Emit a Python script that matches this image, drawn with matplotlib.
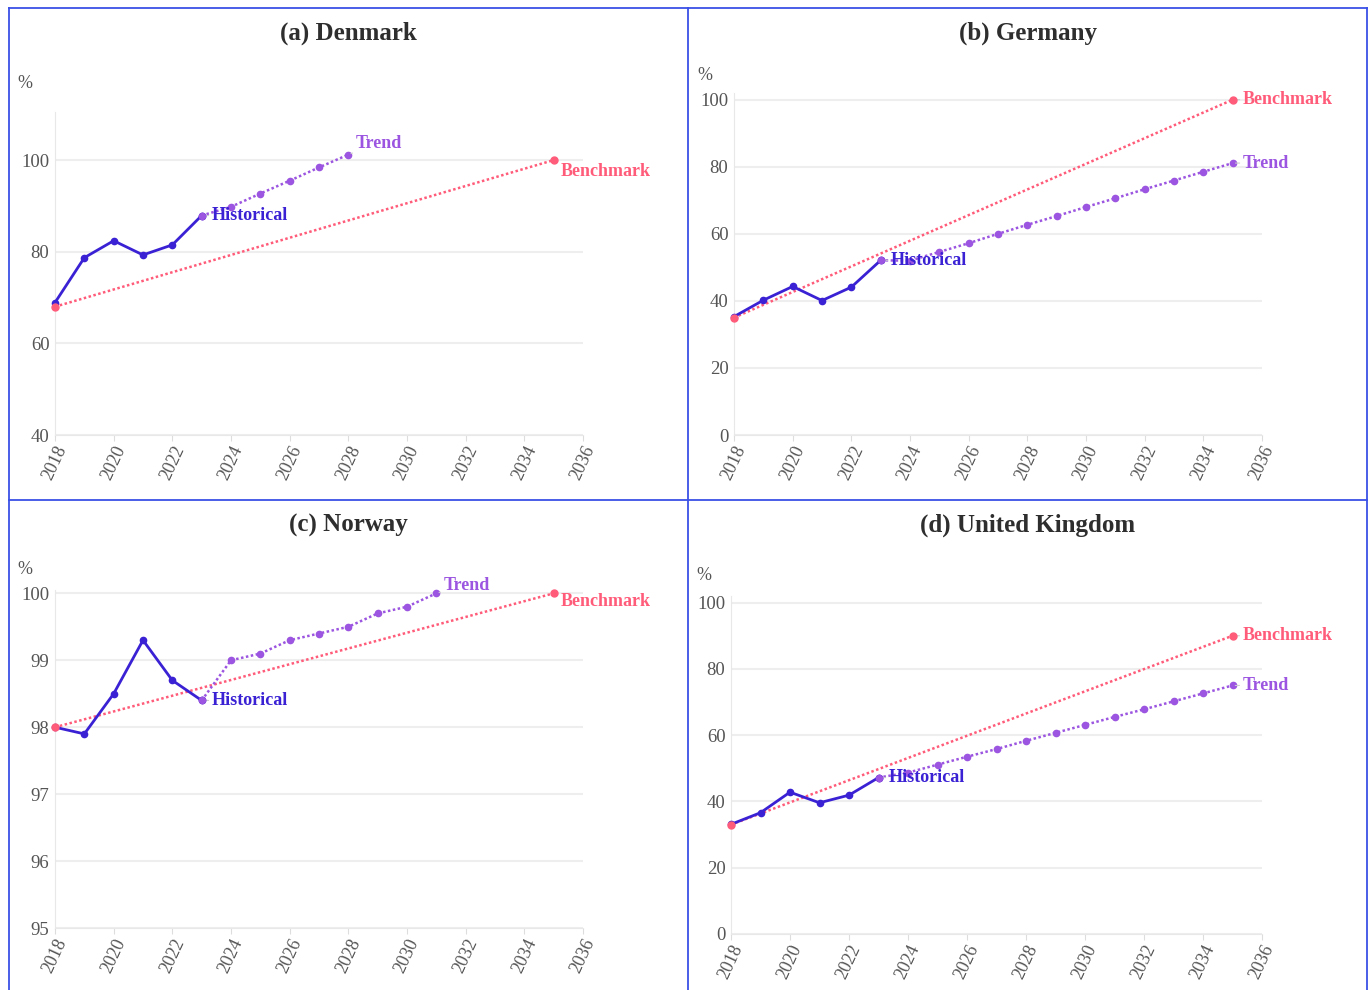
import numpy as np
import matplotlib.pyplot as plt
from matplotlib.lines import Line2D

plt.rcParams['font.family'] = ['Liberation Serif', 'DejaVu Serif']

# ---- data ----
hist_years = [2018, 2019, 2020, 2021, 2022, 2023]
bench_years = [2018, 2035]

dk_hist = [68.9, 78.7, 82.4, 79.3, 81.5, 87.9]
dk_trend_years = [2023, 2024, 2025, 2026, 2027, 2028]
dk_trend = [87.9, 89.8, 92.7, 95.5, 98.4, 101.2]
dk_bench = [68.0, 100.0]

de_hist = [35.3, 40.2, 44.3, 40.1, 44.1, 52.1]
de_trend_years = list(range(2023, 2036))
de_trend = [52.1, 52.0, 54.6, 57.2, 60.0, 62.7, 65.3, 68.0, 70.6, 73.3, 75.9, 78.5, 81.1]
de_bench = [35.0, 100.0]

no_hist = [98.0, 97.9, 98.5, 99.3, 98.7, 98.4]
no_trend_years = list(range(2023, 2032))
no_trend = [98.4, 99.0, 99.1, 99.3, 99.4, 99.5, 99.7, 99.8, 100.0]
no_bench = [98.0, 100.0]

uk_hist = [33.1, 36.6, 42.8, 39.6, 41.9, 47.2]
uk_trend_years = list(range(2023, 2036))
uk_trend = [47.2, 48.7, 51.1, 53.5, 55.8, 58.3, 60.7, 63.1, 65.5, 67.8, 70.2, 72.6, 75.0]
uk_bench = [33.0, 90.0]

x_ticks = list(range(2018, 2037, 2))

HIST_C = '#3a22d4'
TREND_C = '#9b55e0'
BENCH_C = '#ff5c7a'
GRID_C = '#eeeeee'
TICK_C = '#555555'
BORDER_C = '#3a4fe6'
DOTS = (0, (1, 1))

W, H = 1371, 990
fig = plt.figure(figsize=(W / 100, H / 100), dpi=100)


def px_axes(left, right, bottom, top):
    return fig.add_axes([left / W, 1 - bottom / H, (right - left) / W, (bottom - top) / H])


def draw_panel(ax, title, title_xy, pct_xy, hist, t_years, trend, bench, ylim, yticks,
               trend_off, bench_off):
    ax.plot(bench_years, bench, color=BENCH_C, ls=DOTS, lw=1.8, zorder=2)
    ax.plot(t_years, trend, color=TREND_C, ls=DOTS, lw=1.8, marker='o', ms=4.5,
            zorder=3, clip_on=False)
    ax.plot(hist_years, hist, '-', color=HIST_C, lw=2, marker='o', ms=4.5, zorder=4,
            clip_on=False)
    ax.plot(t_years[0], trend[0], 'o', color=TREND_C, ms=4.5, zorder=5)
    ax.plot(bench_years, bench, 'o', color=BENCH_C, ms=5, zorder=6, clip_on=False)

    ax.set_xlim(2018, 2036)
    ax.set_ylim(*ylim)
    ax.set_xticks(x_ticks)
    ax.set_yticks(yticks)
    ax.set_xticklabels([str(t) for t in x_ticks], rotation=65, ha='right', va='top',
                       rotation_mode='anchor')
    ax.tick_params(axis='x', colors=TICK_C, labelsize=13, length=4, color='#dddddd', pad=2)
    ax.tick_params(axis='y', colors=TICK_C, labelsize=13.5, length=0, pad=4)
    ax.grid(axis='y', color=GRID_C, lw=1.5)
    ax.set_axisbelow(True)
    for s in ['top', 'right']:
        ax.spines[s].set_visible(False)
    ax.spines['left'].set_color('#e8e8e8')
    ax.spines['bottom'].set_color('#e8e8e8')

    lab = dict(fontsize=13, fontweight='bold', va='center')
    ax.annotate('Historical', (hist_years[-1], hist[-1]), xytext=(7, 0),
                textcoords='offset points', color=HIST_C, ha='left',
                arrowprops=dict(arrowstyle='-', color='#cccccc', lw=0.8,
                                shrinkA=0, shrinkB=2), **lab)
    ax.annotate('Trend', (t_years[-1], trend[-1]), xytext=trend_off,
                textcoords='offset points', color=TREND_C, ha='left',
                arrowprops=dict(arrowstyle='-', color='#cccccc', lw=0.8,
                                shrinkA=0, shrinkB=2), **lab)
    ax.annotate('Benchmark', (bench_years[-1], bench[-1]), xytext=bench_off,
                textcoords='offset points', color=BENCH_C, ha='left',
                arrowprops=dict(arrowstyle='-', color='#cccccc', lw=0.8,
                                shrinkA=0, shrinkB=2), **lab)

    fig.text(title_xy[0] / W, 1 - title_xy[1] / H, title, ha='center', va='center',
             fontsize=18, fontweight='bold', color='#2e2e2e')
    fig.text(pct_xy[0] / W, 1 - pct_xy[1] / H, '%', ha='center', va='center',
             fontsize=13, color=TICK_C)


ax_a = px_axes(55, 583, 435, 112)
draw_panel(ax_a, '(a) Denmark', (348, 33), (25, 84), dk_hist, dk_trend_years, dk_trend,
           dk_bench, (40, 110.5), [40, 60, 80, 100], (5, 8), (5, -8))

ax_b = px_axes(734, 1262, 435, 93)
draw_panel(ax_b, '(b) Germany', (1028, 33), (705, 76), de_hist, de_trend_years, de_trend,
           de_bench, (0, 102), [0, 20, 40, 60, 80, 100], (7, 0), (7, 0))

ax_c = px_axes(55, 583, 928, 590)
draw_panel(ax_c, '(c) Norway', (348, 525), (25, 569), no_hist, no_trend_years, no_trend,
           no_bench, (95, 100.05), [95, 96, 97, 98, 99, 100], (5, 6), (5, -6))

ax_d = px_axes(731, 1262, 934, 596)
draw_panel(ax_d, '(d) United Kingdom', (1028, 525), (704, 576), uk_hist, uk_trend_years,
           uk_trend, uk_bench, (0, 102), [0, 20, 40, 60, 80, 100], (7, 0), (7, 0))

# panel frames
for xs, ys in [([9, 1367], [8, 8]), ([9, 1367], [500, 500]), ([9, 9], [8, 990]),
               ([688, 688], [8, 990]), ([1367, 1367], [8, 990])]:
    fig.add_artist(Line2D([x / W for x in xs], [1 - y / H for y in ys],
                          color=BORDER_C, lw=1.3))

fig.savefig('out.png', dpi=100)
